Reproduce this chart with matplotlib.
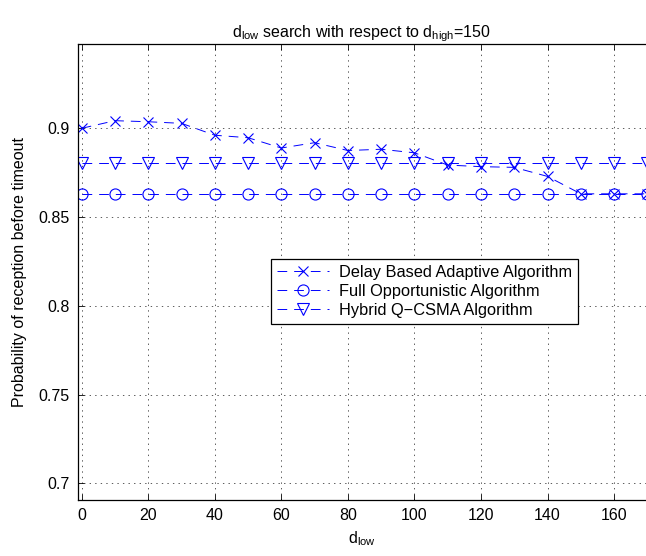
import matplotlib
matplotlib.use("Agg")
import matplotlib.pyplot as plt
from matplotlib.lines import Line2D

plt.rcParams['font.family'] = ['Liberation Sans', 'DejaVu Sans']
plt.rcParams['lines.scale_dashes'] = False
plt.rcParams['mathtext.fontset'] = 'custom'
plt.rcParams['mathtext.rm'] = 'Liberation Sans'
plt.rcParams['mathtext.it'] = 'Liberation Sans'

d_low = [0, 10, 20, 30, 40, 50, 60, 70, 80, 90, 100, 110, 120, 130, 140, 150, 160, 170]
delay_based = [0.900, 0.9043, 0.9037, 0.9028, 0.8961, 0.8947, 0.8889, 0.8919, 0.8875,
               0.8882, 0.8862, 0.8793, 0.8784, 0.8780, 0.8729, 0.8631, 0.8631, 0.8631]
full_opp = [0.8631] * len(d_low)
hybrid = [0.8803] * len(d_low)
labels = ['Delay Based Adaptive Algorithm', 'Full Opportunistic Algorithm', 'Hybrid Q\u2212CSMA Algorithm']
xticks = [0, 20, 40, 60, 80, 100, 120, 140, 160]
yticks = [0.7, 0.75, 0.8, 0.85, 0.9]
yticklabels = ['0.7', '0.75', '0.8', '0.85', '0.9']

fig = plt.figure(figsize=(6.46, 5.56), dpi=100)
ax = fig.add_axes([77.7/646, 1-500/556, 1-77.7/646, (500-44)/556])

dash = (0, (7, 5))
fs = 11.5
ax.plot(d_low, delay_based, color='blue', ls=dash, lw=0.7, marker='x', ms=7, mew=0.8)
ax.plot(d_low, full_opp, color='blue', ls=dash, lw=0.7, marker='o', ms=8, mew=0.8, mfc='none')
ax.plot(d_low, hybrid, color='blue', ls=dash, lw=0.7, marker='v', ms=9, mew=0.8, mfc='none')

ax.set_xlim(-1.2, 169.6)
ax.set_ylim(0.6906, 0.9475)
ax.set_xticks(xticks)
ax.set_yticks(yticks)
ax.set_yticklabels(yticklabels)
ax.tick_params(direction='in', top=True, right=False, length=4, width=0.6, labelsize=fs, pad=6)
ax.grid(True, color='0.25', ls=(0, (1, 3)), lw=0.6)
ax.spines['right'].set_visible(False)
for s in ['left', 'bottom', 'top']:
    ax.spines[s].set_linewidth(0.9)

ax.set_title(r'd$_{\mathrm{low}}$ search with respect to d$_{\mathrm{high}}$=150', fontsize=fs, pad=5)
ax.set_xlabel(r'd$_{\mathrm{low}}$', fontsize=fs, labelpad=4)
ax.set_ylabel('Probability of reception before timeout', fontsize=fs, labelpad=8)

handles = [
    Line2D([], [], color='blue', ls=dash, lw=0.7, marker='x', ms=7, mew=0.8),
    Line2D([], [], color='blue', ls=dash, lw=0.7, marker='o', ms=8, mew=0.8, mfc='none'),
    Line2D([], [], color='blue', ls=dash, lw=0.7, marker='v', ms=9, mew=0.8, mfc='none'),
]
leg = ax.legend(handles, labels, loc='upper left', bbox_to_anchor=((271-77.7)/(646-77.7), (500-259)/456),
                fontsize=11.8, fancybox=False, framealpha=1, edgecolor='black', handlelength=3.2,
                handletextpad=0.6, borderpad=0.35, labelspacing=0.25, borderaxespad=0)
leg.get_frame().set_linewidth(0.9)

fig.savefig('out.png', dpi=100)
